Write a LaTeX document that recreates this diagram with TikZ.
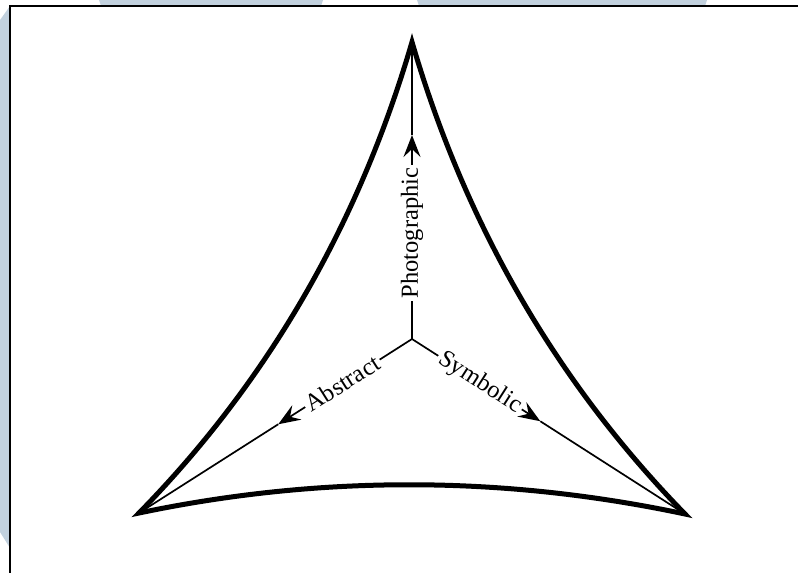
\documentclass[tikz,border=0pt]{standalone}
\usepackage{fontspec}
\setmainfont{Liberation Serif}
\usetikzlibrary{arrows.meta,calc}
\definecolor{bgblue}{RGB}{194,209,222}
\begin{document}
\begin{tikzpicture}[x=1pt,y=-1pt,
  side/.style={line width=5pt, line join=miter},
  ray/.style={line width=1.7pt},
  tipped/.style={ray, -{Stealth[length=22pt,width=17pt,inset=8pt]}},
  lab/.style={sloped, fill=white, inner sep=2.5pt, font=\fontsize{24.5}{28}\selectfont}]
\useasboundingbox (0,0) rectangle (798,573);
% background decoration
\fill[bgblue] (99,0) -- (323,0) -- (321,6) -- (101,6) -- cycle;
\fill[bgblue] (417,0) -- (707,0) -- (705,6) -- (419,6) -- cycle;
\fill[bgblue] (0,20) -- (10,6) -- (10,548) -- (0,532) -- cycle;
\fill[white] (10,6) rectangle (798,573);
\draw[line width=2pt] (10,573) -- (10,6) -- (798,6);
% vertices and (quadratic) control points
\coordinate (T) at (412,42);
\coordinate (L) at (139,513);
\coordinate (R) at (685,514);
\coordinate (QL) at (332,316);
\coordinate (QB) at (411,456);
\coordinate (QR) at (492,316);
\coordinate (O) at (412,339);
% cubic equivalents of the quadratic curves
\coordinate (TL1) at ($(T)!2/3!(QL)$);
\coordinate (TL2) at ($(L)!2/3!(QL)$);
\coordinate (LR1) at ($(L)!2/3!(QB)$);
\coordinate (LR2) at ($(R)!2/3!(QB)$);
\coordinate (RT1) at ($(R)!2/3!(QR)$);
\coordinate (RT2) at ($(T)!2/3!(QR)$);
% curved triangle
\draw[side] (T) .. controls (TL1) and (TL2) .. (L)
  .. controls (LR1) and (LR2) .. (R)
  .. controls (RT1) and (RT2) .. cycle;
% arrow tips
\coordinate (PA) at (412,135);
\coordinate (AA) at ($(O)!0.49!(L)$);
\coordinate (SA) at ($(O)!0.47!(R)$);
% rays
\draw[tipped] (O) -- node[lab, pos=0.52] {Photographic} (PA);
\draw[tipped] (O) -- node[lab, pos=0.52] {Abstract} (AA);
\draw[tipped] (O) -- node[lab, pos=0.53] {Symbolic} (SA);
\draw[ray] (PA) -- (T);
\draw[ray] (AA) -- (L);
\draw[ray] (SA) -- (R);
\end{tikzpicture}
\end{document}
